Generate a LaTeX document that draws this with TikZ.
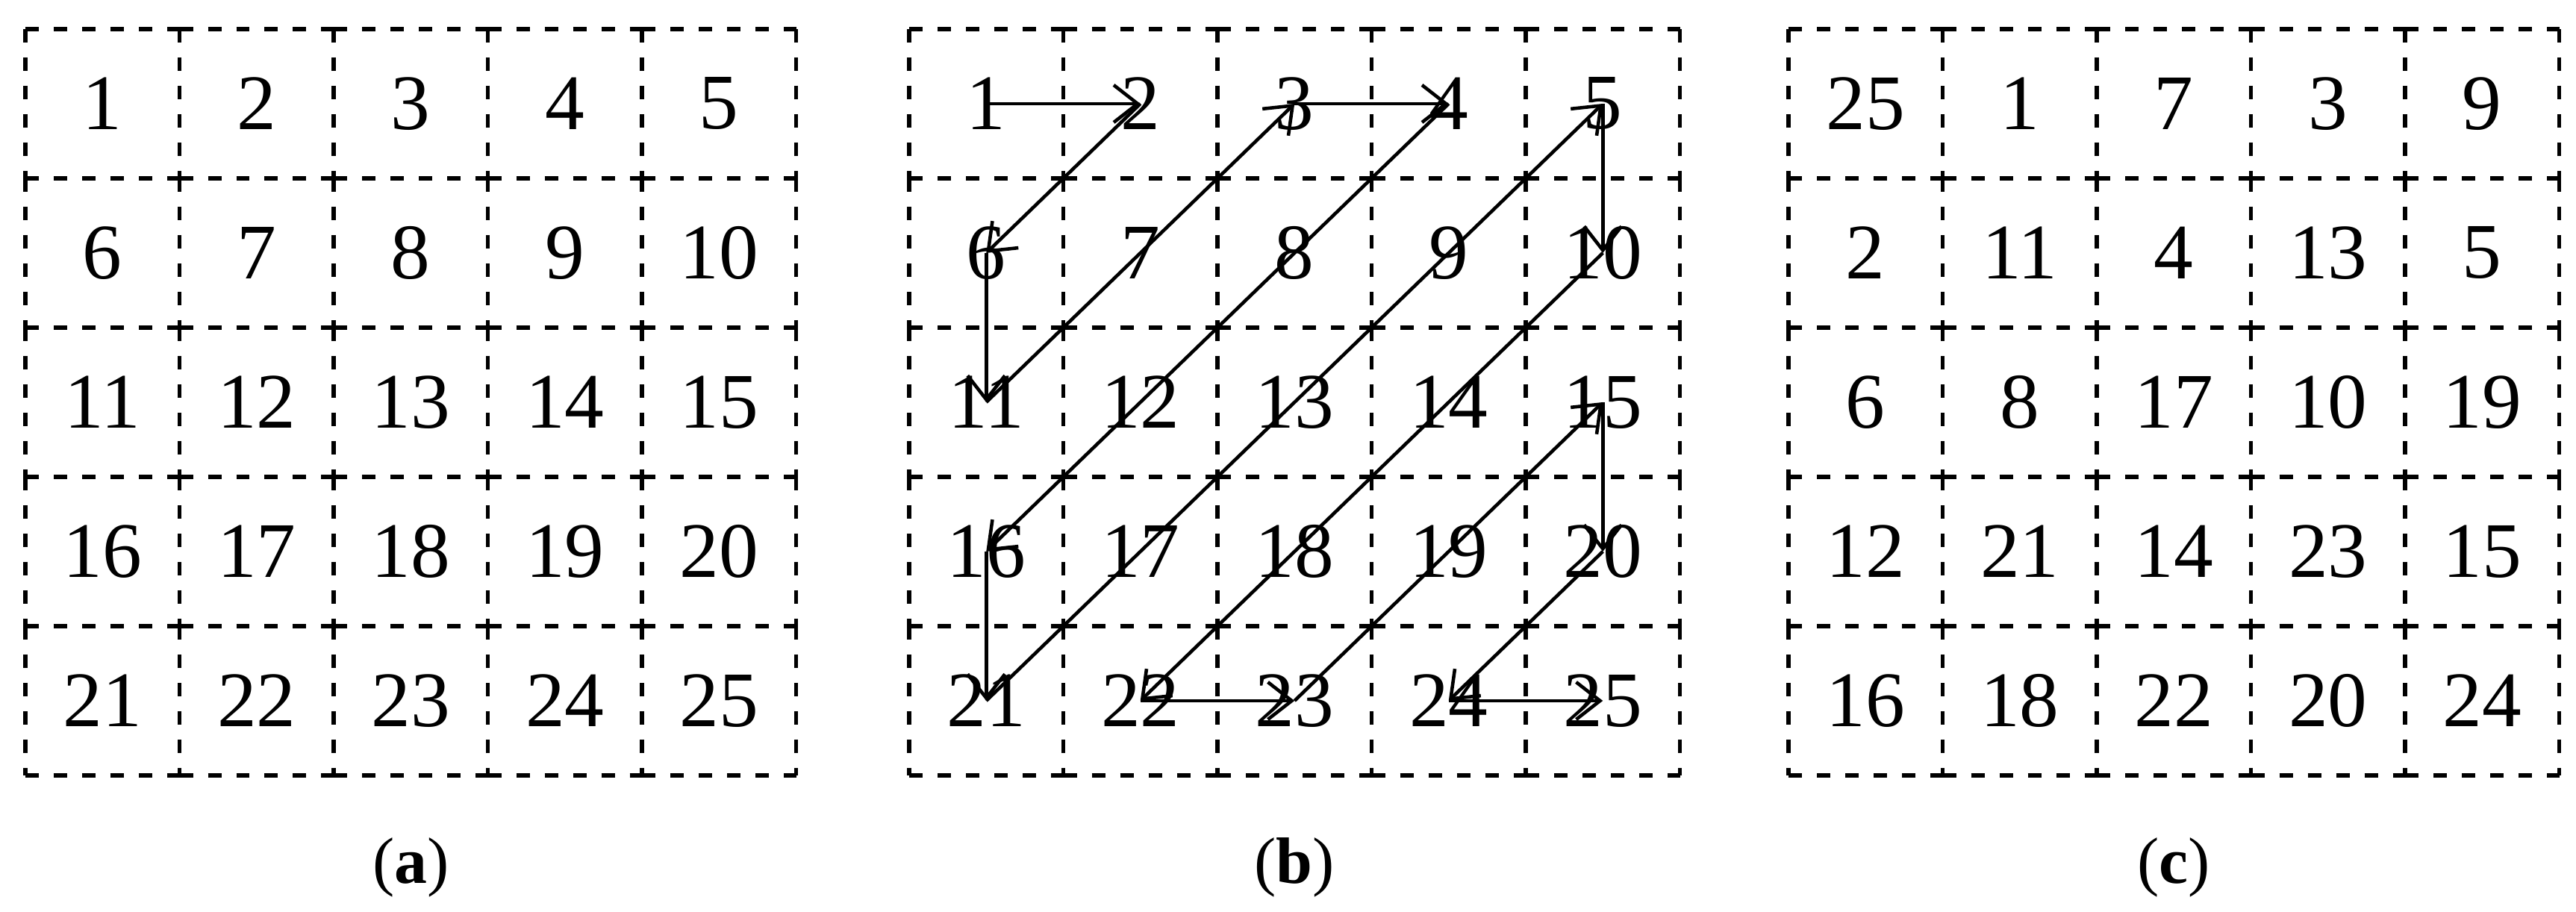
\documentclass[tikz,border=0pt]{standalone}
\usepackage{fontspec}
\setmainfont{Liberation Serif}
\usetikzlibrary{arrows.meta}
\begin{document}
\begin{tikzpicture}[x=1cm,y=1cm,
  gridline/.style={line width=1.5pt, dash pattern=on 0.18cm off 0.2cm},
  num/.style={font=\fontsize{30}{30}\selectfont, inner sep=0pt},
  zig/.style={line width=1.3pt, -{Straight Barb[length=0.32cm,width=0.5cm,line width=1.3pt]}},
  caplabel/.style={font=\fontsize{25}{25}\selectfont}]
\useasboundingbox (0,0) rectangle (34.51,12.22);
% grid lines
\foreach \x in {0.34,12.18,23.96}{
  \foreach \i in {0,...,5}{
    \foreach \j in {0,...,4}{
      \draw[gridline] (\x+\j*2.065, 11.83-\i*2) -- ++(2.065,0);
      \draw[gridline] (\x+\i*2.065, 11.83-\j*2) -- ++(0,-2);
    }
  }
}
% numbers (a) and (b)
\foreach \k in {1,...,25}{
  \pgfmathtruncatemacro{\r}{int((\k-1)/5)}
  \pgfmathtruncatemacro{\c}{mod(\k-1,5)}
  \node[num] (a\k) at (0.34+\c*2.065+1.0325, 10.83-\r*2) {\k};
  \node[num] (b\k) at (12.18+\c*2.065+1.0325, 10.83-\r*2) {\k};
}
% numbers (c)
\foreach \v [count=\k] in {25,1,7,3,9,2,11,4,13,5,6,8,17,10,19,12,21,14,23,15,16,18,22,20,24}{
  \pgfmathtruncatemacro{\r}{int((\k-1)/5)}
  \pgfmathtruncatemacro{\c}{mod(\k-1,5)}
  \node[num] (c\k) at (23.96+\c*2.065+1.0325, 10.83-\r*2) {\v};
}
% zigzag arrows
\draw[zig] (b1.center) -- (b2.center);
\draw[zig] (b2.center) -- (b6.center);
\draw[zig] (b6.center) -- (b11.center);
\draw[zig] (b11.center) -- (b3.center);
\draw[zig] (b3.center) -- (b4.center);
\draw[zig] (b4.center) -- (b16.center);
\draw[zig] (b16.center) -- (b21.center);
\draw[zig] (b21.center) -- (b5.center);
\draw[zig] (b5.center) -- (b10.center);
\draw[zig] (b10.center) -- (b22.center);
\draw[zig] (b22.center) -- (b23.center);
\draw[zig] (b23.center) -- (b15.center);
\draw[zig] (b15.center) -- (b20.center);
\draw[zig] (b20.center) -- (b24.center);
\draw[zig] (b24.center) -- (b25.center);
% captions
\node[caplabel] (la) at (0.34+5.1625, 0.6) {(\textbf{a})};
\node[caplabel] (lb) at (12.18+5.1625, 0.6) {(\textbf{b})};
\node[caplabel] (lc) at (23.96+5.1625, 0.6) {(\textbf{c})};
\end{tikzpicture}
\end{document}
